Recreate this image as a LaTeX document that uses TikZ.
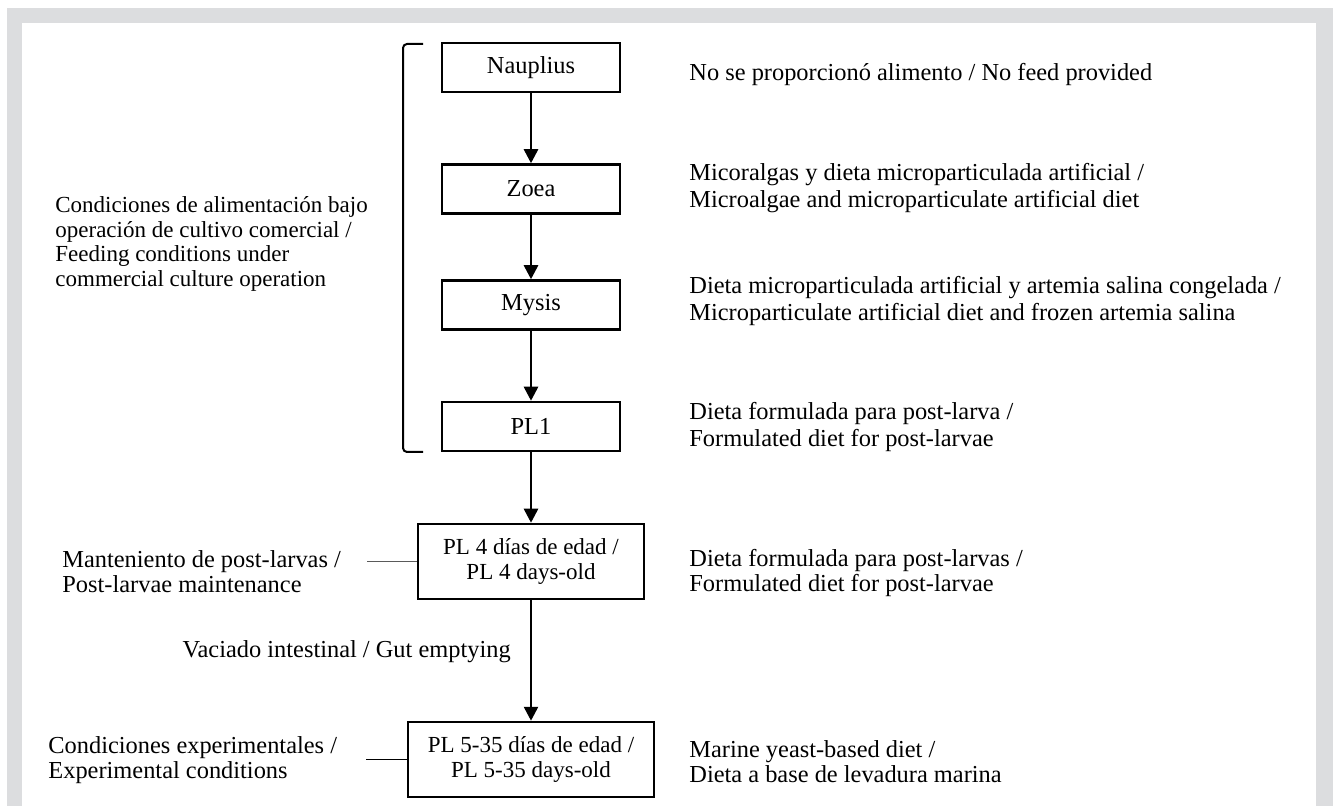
\documentclass[tikz,border=0pt]{standalone}
\usepackage{fontspec}
\setmainfont{Liberation Serif}
\usetikzlibrary{arrows.meta}
\definecolor{framegray}{RGB}{220,221,223}
\definecolor{sidegray}{RGB}{90,90,90}
\begin{document}
\begin{tikzpicture}[x=0.5pt,y=-0.5pt,
  every node/.style={font=\fontsize{12.2}{13.5}\selectfont},
  stage/.style={draw=black,line width=1.25pt,inner sep=0pt,align=center,minimum width=89pt,minimum height=24.5pt,font=\fontsize{12.2}{12.5}\selectfont},
  widestage/.style={stage,minimum height=37.5pt,font=\fontsize{11.5}{12.5}\selectfont},
  note/.style={anchor=west,inner sep=0pt,align=left},
  tightnote/.style={note,font=\fontsize{12.2}{12.5}\selectfont},
  flow/.style={line width=1.3pt,-{Triangle[length=7pt,width=7pt]}},
  side/.style={line width=0.75pt}]
\useasboundingbox (0,0) rectangle (1333,806);
\fill[framegray] (7,8) rectangle (1333,806);
\fill[white] (22,23) rectangle (1316,806);
% stages
\node[stage] (naup) at (531,67.5) {Nauplius};
\node[stage] (zoea) at (531,189) {Zoea};
\node[stage] (mysis) at (531,305) {Mysis};
\node[stage] (pl1) at (531,426.5) {PL1};
\node[widestage,minimum width=113pt] (pl4) at (531,561.5) {PL 4 días de edad /\\PL 4 days-old};
\node[widestage,minimum width=123pt] (pl5) at (531,759.5) {PL 5-35 días de edad /\\PL 5-35 days-old};
% arrows
\draw[flow] (naup) -- (zoea);
\draw[flow] (zoea) -- (mysis);
\draw[flow] (mysis) -- (pl1);
\draw[flow] (pl1) -- (pl4);
\draw[flow] (pl4) -- node[pos=0.43,left=9.5pt,inner sep=0pt] (gut) {Vaciado intestinal / Gut emptying} (pl5);
% bracket
\draw[line width=1pt,rounded corners=2pt] (423,44) -- (403,44) -- (403,452) -- (423,452);
% right notes
\node[note] (r1) at (689,75) {No se proporcionó alimento / No feed provided};
\node[note] (r2) at (689,188) {Micoralgas y dieta microparticulada artificial /\\Microalgae and microparticulate artificial diet};
\node[note] (r3) at (689,301) {Dieta microparticulada artificial y artemia salina congelada /\\Microparticulate artificial diet and frozen artemia salina};
\node[note] (r4) at (689,427) {Dieta formulada para post-larva /\\Formulated diet for post-larvae};
\node[tightnote] (r5) at (689,573) {Dieta formulada para post-larvas /\\Formulated diet for post-larvae};
\node[tightnote] (r6) at (689,762) {Marine yeast-based diet /\\Dieta a base de levadura marina};
% left notes
\node[note,font=\fontsize{11.5}{12.4}\selectfont] (l1) at (55,244) {Condiciones de alimentación bajo\\operación de cultivo comercial /\\Feeding conditions under\\commercial culture operation};
\node[tightnote] (l2) at (62,572) {Manteniento de post-larvas /\\Post-larvae maintenance};
\node[tightnote] (l3) at (48,760) {Condiciones experimentales /\\Experimental conditions};
% side connectors
\coordinate (s4) at (367,561.5);
\coordinate (s5) at (366,759.5);
\draw[side,draw=sidegray] (s4) -- (pl4.west);
\draw[side] (s5) -- (pl5.west);
\end{tikzpicture}
\end{document}
